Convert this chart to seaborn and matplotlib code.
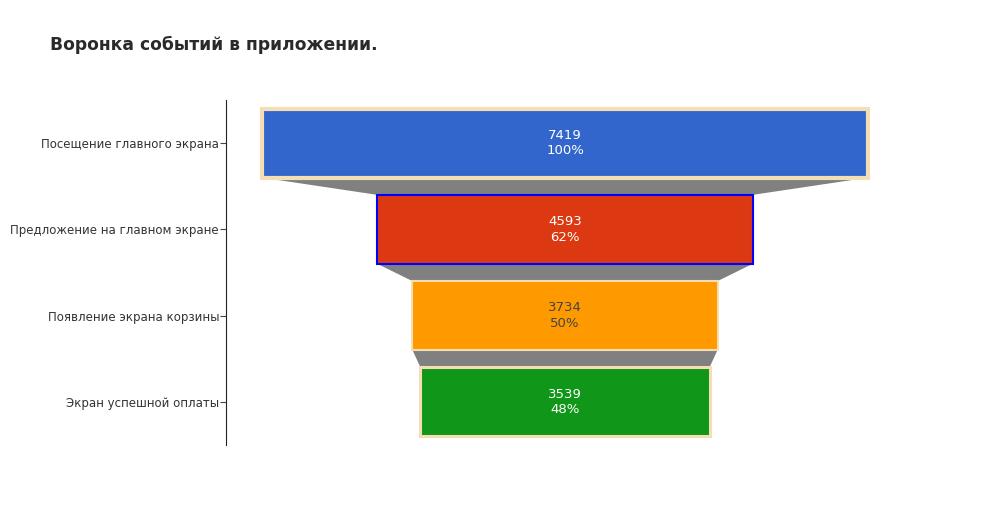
import matplotlib
matplotlib.use("Agg")
import matplotlib.pyplot as plt
import seaborn as sns
import pandas as pd

# --- данные воронки ---
stages = ["Посещение главного экрана", "Предложение на главном экране",
          "Появление экрана корзины", "Экран успешной оплаты"]
users = [7419, 4593, 3734, 3539]
bar_colors = ["#3366CC", "#DC3912", "#FF9900", "#109618"]
edge_colors = ["#F5DEB3", "#0000FF", "#F5DEB3", "#F5DEB3"]
edge_widths = [3.0, 1.5, 1.5, 2.2]
text_colors = ["white", "white", "#444444", "white"]

df = pd.DataFrame({"stage": stages, "users": users})
pct = [round(u / users[0] * 100) for u in users]

sns.set_style("white")
plt.rcParams["font.family"] = ["DejaVu Sans"]

fig = plt.figure(figsize=(9.83, 5.25), dpi=100)
ax = fig.add_axes([226 / 983, 1 - 445 / 525, (904 - 226) / 983, 345 / 525])

sns.barplot(data=df, x="users", y="stage", orient="h", width=0.8,
            palette=bar_colors, hue="stage", legend=False, saturation=1,
            ax=ax, zorder=3)

# центрируем бары (воронка)
for i, p in enumerate(ax.patches):
    w = p.get_width()
    p.set_x(-w / 2)
    p.set_edgecolor(edge_colors[i])
    p.set_linewidth(edge_widths[i])
    ax.text(0, i, f"{users[i]}\n{pct[i]}%", ha="center", va="center",
            color=text_colors[i], fontsize=9.5, linespacing=1.25, zorder=5)

# соединители между этапами
half = 0.4
for i in range(len(users) - 1):
    a, b = users[i] / 2, users[i + 1] / 2
    ax.fill([-a, a, b, -b], [i + half, i + half, i + 1 - half, i + 1 - half],
            color="#808080", lw=0, zorder=2)

ax.set_xlim(-4150, 4150)
ax.set_ylim(3.5, -0.5)
ax.set_xlabel("")
ax.set_ylabel("")
ax.set_xticks([])
sns.despine(ax=ax, top=True, right=True, bottom=True, left=False)
ax.spines["left"].set_color("#222222")
ax.spines["left"].set_linewidth(0.8)
ax.tick_params(axis="y", left=True, length=4, width=0.8, color="#444444",
               labelsize=8.5, labelcolor="#333333", pad=1)

fig.text(50 / 983, 1 - 45 / 525, "Воронка событий в приложении.",
         fontsize=12.3, fontweight="bold", color="#2a2a2a", va="center", ha="left")

fig.savefig("out.png", dpi=100)
